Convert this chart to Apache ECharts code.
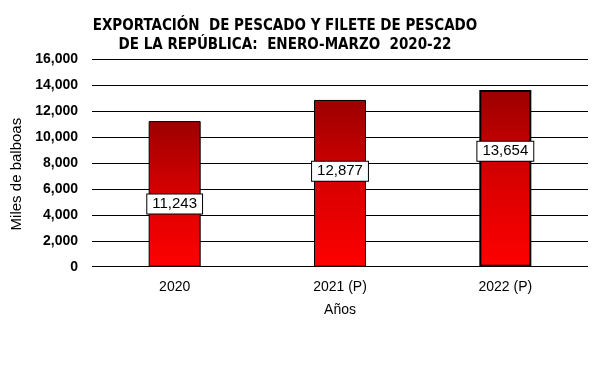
<!DOCTYPE html>
<html>
<head>
<meta charset="utf-8">
<script src="https://cdn.jsdelivr.net/npm/echarts@6/dist/echarts.min.js"></script>
<style>
html,body{margin:0;padding:0;background:#fff;}
#c{width:613px;height:372px;}
</style>
</head>
<body>
<div id="c"></div>
<script>
const categories = ['2020', '2021 (P)', '2022 (P)'];
const values = [11243, 12877, 13654];
const yTicks = [0, 2000, 4000, 6000, 8000, 10000, 12000, 14000, 16000];
const titleLines = ['EXPORTACIÓN  DE PESCADO Y FILETE DE PESCADO', 'DE LA REPÚBLICA:  ENERO-MARZO  2020-22'];
const yName = 'Miles de balboas';
const xName = 'Años';

// label vertical offsets (style only)
const labelOffsets = [10, -12, -27];
const borderWidths = [1, 1, 2];
const narrow = '"DejaVu Sans Condensed", sans-serif';
const sans = '"Liberation Sans", Arial, sans-serif';

const chart = echarts.init(document.getElementById('c'), null, {renderer: 'canvas'});
const fmt = v => Number(v).toLocaleString('en-US');

chart.setOption({
  animation: false,
  backgroundColor: '#ffffff',
  title: {
    text: titleLines.join('\n'),
    left: 280,
    top: 12,
    textAlign: 'center',
    textStyle: {fontFamily: narrow, fontWeight: 'bold', fontSize: 15, lineHeight: 18.5, color: '#000'}
  },
  grid: {left: 92, right: 25, top: 59.5, bottom: 105.3},
  xAxis: {
    type: 'category',
    data: categories,
    axisLine: {show: false},
    axisTick: {show: false},
    axisLabel: {fontFamily: sans, fontSize: 14, color: '#000', margin: 13},
    name: xName,
    nameLocation: 'middle',
    nameGap: 36,
    nameTextStyle: {fontFamily: sans, fontSize: 14, color: '#000'}
  },
  yAxis: {
    type: 'value',
    min: yTicks[0],
    max: yTicks[yTicks.length - 1],
    interval: yTicks[1] - yTicks[0],
    axisLine: {show: false},
    axisTick: {show: false},
    splitLine: {lineStyle: {color: '#000', width: 1}},
    axisLabel: {fontFamily: sans, fontSize: 14, fontWeight: 'bold', color: '#000', margin: 14, formatter: fmt},
    name: yName,
    nameLocation: 'middle',
    nameRotate: 90,
    nameGap: 63,
    nameTextStyle: {fontFamily: sans, fontSize: 15, color: '#000', padding: [0, 22, 0, 0]}
  },
  series: [{
    type: 'bar',
    barWidth: 52,
    data: values.map((v, i) => ({
      value: v,
      itemStyle: {borderWidth: borderWidths[i]},
      label: {offset: [0, labelOffsets[i]]}
    })),
    itemStyle: {
      color: new echarts.graphic.LinearGradient(0, 0, 0, 1, [
        {offset: 0, color: '#9c0000'},
        {offset: 0.5, color: '#d80000'},
        {offset: 1, color: '#ff0000'}
      ]),
      borderColor: '#000',
      borderWidth: 1
    },
    label: {
      show: true,
      position: 'inside',
      formatter: p => fmt(p.value),
      fontFamily: sans,
      fontSize: 15,
      lineHeight: 17,
      color: '#000',
      backgroundColor: '#fff',
      borderColor: '#000',
      borderWidth: 1,
      padding: [1, 5, 1, 5]
    }
  }]
});
</script>
</body>
</html>
